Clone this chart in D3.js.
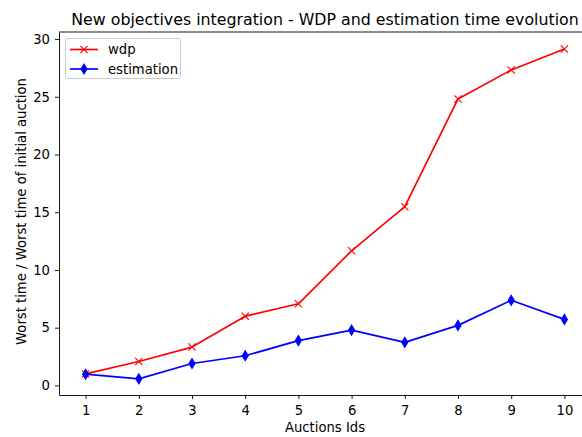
<!DOCTYPE html>
<html>
<head>
<meta charset="utf-8">
<script src="https://cdn.jsdelivr.net/npm/d3@7"></script>
<style>
  html, body { margin: 0; padding: 0; background: #fff; }
  svg { display: block; font-family: "DejaVu Sans", sans-serif; }
</style>
</head>
<body>
<svg id="chart" width="582" height="437"></svg>
<script>
// Auction ids on the x axis
const auctionIds = [1, 2, 3, 4, 5, 6, 7, 8, 9, 10];
// Worst WDP time relative to the initial auction
const wdpValues = [1.0, 2.07, 3.32, 6.0, 7.07, 11.66, 15.48, 24.81, 27.32, 29.14];
// Worst estimation time relative to the initial auction
const estimationValues = [0.97, 0.57, 1.9, 2.57, 3.88, 4.79, 3.73, 5.2, 7.37, 5.72];
// Tick values
const xTicks = [1, 2, 3, 4, 5, 6, 7, 8, 9, 10];
const yTicks = [0, 5, 10, 15, 20, 25, 30];

const svg = d3.select("#chart");
const plot = { left: 59, right: 591, top: 32, bottom: 395 };
const fs = 13.2;

const x = d3.scaleLinear().domain([0.5, 10.5]).range([plot.left, plot.right]);
const y = d3.scaleLinear().domain([-0.83, 30.61]).range([plot.bottom, plot.top]);

// Axes
const xAxis = svg.append("g").attr("transform", `translate(0,${plot.bottom})`)
  .call(d3.axisBottom(x).tickValues(xTicks).tickFormat(d3.format("d")).tickSizeInner(4).tickSizeOuter(0).tickPadding(6.5));
const yAxis = svg.append("g").attr("transform", `translate(${plot.left},0)`)
  .call(d3.axisLeft(y).tickValues(yTicks).tickFormat(d3.format("d")).tickSizeInner(4).tickSizeOuter(0).tickPadding(5));
[xAxis, yAxis].forEach(g => {
  g.selectAll("text").attr("font-size", fs).attr("font-family", "DejaVu Sans").attr("fill", "#000");
  g.selectAll("line").attr("stroke", "#000").attr("stroke-width", 0.9);
  g.select(".domain").attr("stroke", "#000").attr("stroke-width", 0.9);
});

// Top spine
svg.append("line").attr("x1", plot.left).attr("x2", plot.right).attr("y1", plot.top).attr("y2", plot.top)
  .attr("stroke", "#000").attr("stroke-width", 0.9);

// Series lines
const line = d3.line().x((d, i) => x(auctionIds[i])).y(d => y(d));
svg.append("path").datum(wdpValues).attr("d", line)
  .attr("fill", "none").attr("stroke", "#ff0000").attr("stroke-width", 1.7).attr("stroke-linejoin", "round");
svg.append("path").datum(estimationValues).attr("d", line)
  .attr("fill", "none").attr("stroke", "#0000ff").attr("stroke-width", 1.7).attr("stroke-linejoin", "round");

// Markers
const xMark = 3.6;
const diamond = `M0,${-5}L3,0L0,5L-3,0Z`;
function crossMarker(g, cx, cy) {
  g.append("path")
    .attr("d", `M${cx - xMark},${cy - xMark}L${cx + xMark},${cy + xMark}M${cx - xMark},${cy + xMark}L${cx + xMark},${cy - xMark}`)
    .attr("stroke", "#ff0000").attr("stroke-width", 1.1).attr("fill", "none");
}
function diamondMarker(g, cx, cy) {
  g.append("path").attr("d", diamond).attr("transform", `translate(${cx},${cy})`)
    .attr("fill", "#0000ff").attr("stroke", "#0000ff").attr("stroke-width", 1.1);
}
const mg = svg.append("g");
wdpValues.forEach((v, i) => crossMarker(mg, x(auctionIds[i]), y(v)));
estimationValues.forEach((v, i) => diamondMarker(mg, x(auctionIds[i]), y(v)));

// Title and axis labels
const midX = x(5.5);
svg.append("text").attr("x", midX).attr("y", 25).attr("text-anchor", "middle")
  .attr("font-size", 15.8).text("New objectives integration - WDP and estimation time evolution");
svg.append("text").attr("x", midX).attr("y", 432).attr("text-anchor", "middle")
  .attr("font-size", fs).text("Auctions Ids");
svg.append("text").attr("transform", `translate(26,${(plot.top + plot.bottom) / 2 - 2}) rotate(-90)`)
  .attr("text-anchor", "middle").attr("font-size", fs).text("Worst time / Worst time of initial auction");

// Legend
const lg = svg.append("g");
lg.append("rect").attr("x", 65.5).attr("y", 38.5).attr("width", 115).attr("height", 40).attr("rx", 2.5)
  .attr("fill", "#fff").attr("fill-opacity", 0.8).attr("stroke", "#cccccc");
const legendItems = [
  { label: "wdp", color: "#ff0000", marker: crossMarker, cy: 49.5 },
  { label: "estimation", color: "#0000ff", marker: diamondMarker, cy: 69 }
];
legendItems.forEach(it => {
  lg.append("line").attr("x1", 70).attr("x2", 98).attr("y1", it.cy).attr("y2", it.cy)
    .attr("stroke", it.color).attr("stroke-width", 1.7);
  it.marker(lg, 84, it.cy);
  lg.append("text").attr("x", 108).attr("y", it.cy + 4.7).attr("font-size", fs).text(it.label);
});
</script>
</body>
</html>
